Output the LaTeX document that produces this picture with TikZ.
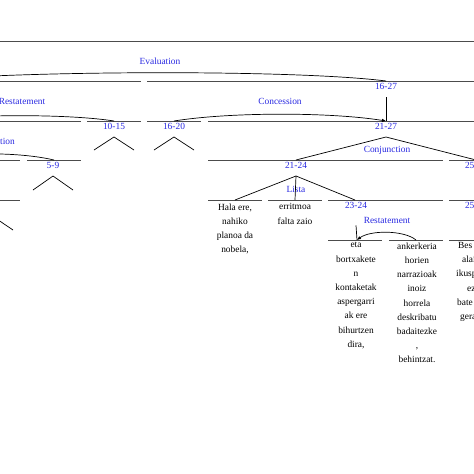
\documentclass[tikz,border=0pt]{standalone}
\usepackage{fontspec}
\setmainfont{Liberation Serif}
\usetikzlibrary{arrows.meta}
\definecolor{relblue}{RGB}{40,40,225}

\begin{document}
\begin{tikzpicture}[
      x=1pt, y=-1pt,
      spanline/.style={draw=black!70, line width=0.9pt},
      treeline/.style={draw=black, line width=0.7pt},
      rellabel/.style={text=relblue, font=\fontsize{9.4}{11}\selectfont, inner sep=0pt},
      leaftext/.style={align=center, font=\fontsize{9.4}{14.2}\selectfont, inner sep=0pt, anchor=north},
      cuttext/.style={font=\fontsize{9.4}{11}\selectfont, inner sep=0pt, anchor=base west},
      arr/.style={-{Latex[length=4pt,width=3.5pt]}}
  ]
    \useasboundingbox (0,0) rectangle (474,474);
    \clip (0,0) rectangle (474,474);

    % span lines, row by row
    \draw[spanline] (-10,41) -- (484,41);
    \draw[spanline] (-10,81) -- (141,81);
    \draw[spanline] (147,81) -- (484,81);
    \draw[spanline] (-10,121) -- (81,121);
    \draw[spanline] (87,121) -- (141,121);
    \draw[spanline] (147,121) -- (201,121);
    \draw[spanline] (208,121) -- (484,121);
    \draw[spanline] (-10,160) -- (20,160);
    \draw[spanline] (27,160) -- (81,160);
    \draw[spanline] (208,160) -- (443,160);
    \draw[spanline] (449,160) -- (484,160);
    \draw[spanline] (-10,200) -- (20,200);
    \draw[spanline] (208,200) -- (262,200);
    \draw[spanline] (268,200) -- (322,200);
    \draw[spanline] (328,200) -- (443,200);
    \draw[spanline] (449,200) -- (484,200);
    \draw[spanline] (328,240) -- (382,240);
    \draw[spanline] (389,240) -- (443,240);
    \draw[spanline] (449,240) -- (484,240);

    % span labels
    \node[rellabel] (s1627) at (386,86) {16-27};
    \node[rellabel] (s1015) at (114,126) {10-15};
    \node[rellabel] (s1620) at (174,126) {16-20};
    \node[rellabel] (s2127) at (386,126) {21-27};
    \node[rellabel] (s59) at (53,165) {5-9};
    \node[rellabel] (s2124) at (296,165) {21-24};
    \node[rellabel] (s2527) at (476,165) {25-27};
    \node[rellabel] (s2324) at (356,205) {23-24};
    \node[rellabel] (s25) at (476,205) {25-27};

    % relation labels
    \node[rellabel] (evaluation) at (160,61) {Evaluation};
    \node[rellabel] (restate) at (22,101) {Restatement};
    \node[rellabel] (concession) at (280,101) {Concession};
    \node[rellabel, anchor=east] (elabo) at (15,141) {tion};
    \node[rellabel] (conjunction) at (387,150) {Conjunction};
    \node[rellabel] (lista) at (296,189) {Lista};
    \node[rellabel] (restate2) at (387,220) {Restatement};

    % tops of the spans
    \coordinate (t1627) at (386,81);
    \coordinate (t1015) at (114,121);
    \coordinate (t1620) at (174,121);
    \coordinate (t2127) at (386,121);
    \coordinate (t59) at (54,160);
    \coordinate (t2124) at (296,160);
    \coordinate (t2527) at (476,160);
    \coordinate (thala) at (235,200);
    \coordinate (territ) at (295,200);
    \coordinate (t2324) at (355,200);
    \coordinate (teta) at (357,240);
    \coordinate (tanker) at (416,240);
    \coordinate (nucl1) at (-90,81);
    \coordinate (nucl2) at (-75,121);
    \coordinate (nucl3) at (-70,160);

    % relation arcs
    \draw[treeline, arr] (t1627) .. controls (300,70) and (40,70) .. (nucl1);
    \draw[treeline, arr] (t1015) .. controls (70,114) and (-25,114) .. (nucl2);
    \draw[treeline, arr] (t1620) .. controls (230,112) and (330,112) .. (t2127);
    \draw[treeline, arr] (t59) .. controls (20,152) and (-35,152) .. (nucl3);
    \draw[treeline, arr] (tanker) .. controls (404,230) and (370,230) .. (teta);

    % nucleus lines
    \draw[treeline] (s1627.south) ++(0,8) -- (t2127);
    \draw[treeline] (s2324.south) ++(0,17) -- (teta);

    % multinuclear lines
    \draw[treeline] (386,137) -- (t2124);
    \draw[treeline] (386,137) -- (t2527);
    \draw[treeline] (296,176) -- (thala);
    \draw[treeline] (296,176) -- (territ);
    \draw[treeline] (296,176) -- (t2324);

    % collapsed subtrees
    \draw[treeline] (94,150) -- (114,137) -- (134,150);
    \draw[treeline] (154,150) -- (174,137) -- (194,150);
    \draw[treeline] (33,190) -- (53,176) -- (73,190);
    \draw[treeline] (-27,230) -- (-7,216.5) -- (13,230);

    % leaf texts
    \node[leaftext] (hala) at (235,203.5) {Hala ere,\\nahiko\\planoa da\\nobela,};
    \node[leaftext] (errit) at (295,203.5) {erritmoa\\falta zaio};
    \node[leaftext] (eta) at (356,242.5) {eta\\bortxakete\\n\\kontaketak\\aspergarri\\ak ere\\bihurtzen\\dira,};
    \node[leaftext] (anker) at (417,242.5) {ankerkeria\\horien\\narrazioak\\inoiz\\horrela\\deskribatu\\badaitezke\\,\\behintzat.};
    \node[cuttext] (bes) at (458,248.5) {Bes};
    \node[cuttext] (alai) at (462,262.7) {alai};
    \node[cuttext] (ikusp) at (456,276.9) {ikusp};
    \node[cuttext] (ez) at (467,291.1) {ez};
    \node[cuttext] (bate) at (457,305.3) {bate};
    \node[cuttext] (gera) at (460,319.5) {gera};
  \end{tikzpicture}
\end{document}
